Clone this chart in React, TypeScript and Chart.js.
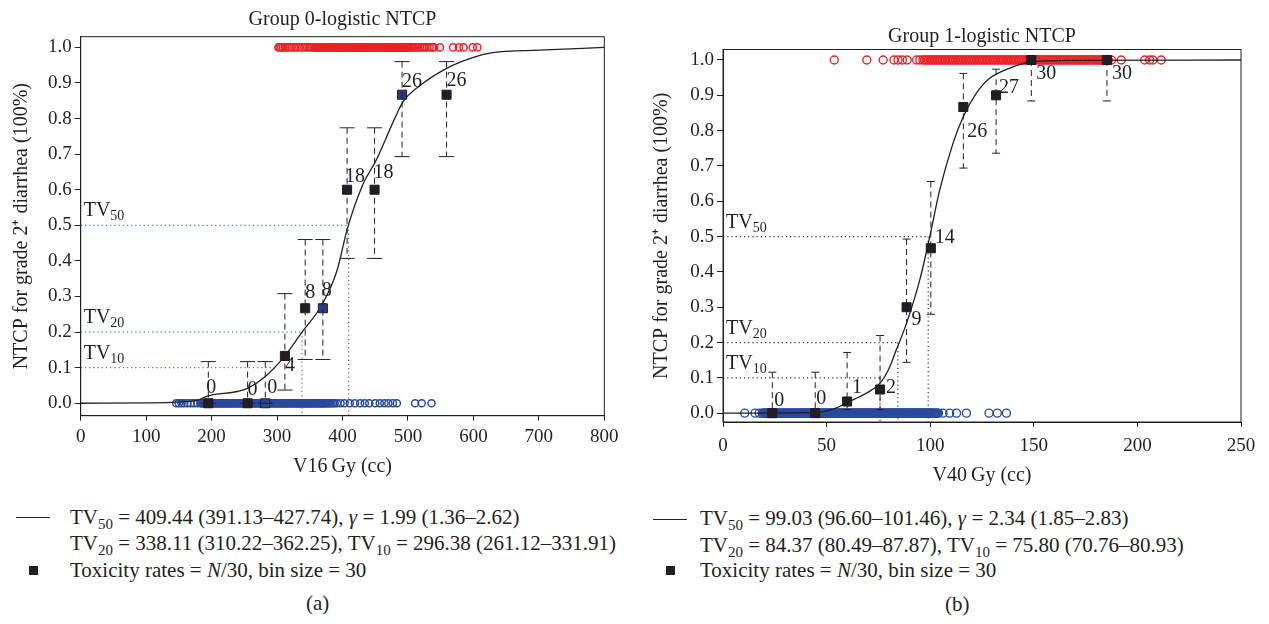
import React, { useEffect, useRef } from "react";
import { Chart, registerables } from "chart.js";

Chart.register(...registerables);

const FONT = '"Liberation Serif", "Times New Roman", serif';
const INK = "#231f20";
const RED = "#ec2227";
const BLUE = "#2a4a9e";

const yTicks = [0, 0.1, 0.2, 0.3, 0.4, 0.5, 0.6, 0.7, 0.8, 0.9, 1.0];
const tvLevels = [0.1, 0.2, 0.5];
const tvNames = ["10", "20", "50"];

// ---------------- Panel (a): Group 0 ----------------
const aXTicks = [0, 100, 200, 300, 400, 500, 600, 700, 800];
const aBinDose = [195, 255, 282, 312, 343, 370, 407, 449, 491, 559];
const aBinN = [0, 0, 0, 4, 8, 8, 18, 18, 26, 26];
const aBinRate = [0, 0, 0, 0.133, 0.267, 0.267, 0.6, 0.6, 0.867, 0.867];
const aBinLow = [0, 0, 0, 0.037, 0.123, 0.123, 0.407, 0.407, 0.693, 0.693];
const aBinHigh = [0.117, 0.117, 0.117, 0.308, 0.46, 0.46, 0.774, 0.774, 0.96, 0.96];
const aCurveDose = [0, 100, 146, 179, 195, 239, 255, 282, 312, 337, 370, 392, 407, 430, 452, 479, 493, 513, 559, 600, 630, 700, 800];
const aCurveNtcp = [0, 0.001, 0.003, 0.009, 0.021, 0.033, 0.042, 0.075, 0.133, 0.197, 0.281, 0.375, 0.488, 0.61, 0.685, 0.797, 0.849, 0.885, 0.941, 0.972, 0.985, 0.992, 1.0];
const aTV = [296.38, 338.11, 409.44];
const aTox = [302, 304, 306.5, 309, 312, 315, 318, 322, 326, 330, 334, 338, 342, 346, 350, 353, 356, 357.6, 359, 360.5, 362, 363.6, 365, 366.4, 368, 369.5, 371, 372.6, 374, 375.4, 377, 378.5, 380, 381.6, 383, 384.4, 386, 387.5, 389, 390.6, 392, 393.4, 395, 396.5, 398, 399.6, 401, 402.4, 404, 405.5, 407, 408.6, 410, 411.4, 413, 414.5, 416, 417.6, 419, 420.4, 422, 423.5, 425, 426.6, 428, 429.4, 431, 432.5, 434, 435.6, 437, 438.4, 440, 441.5, 443, 444.6, 446, 447.4, 449, 450.5, 452, 453.6, 455, 456.4, 458, 459.5, 461, 462.6, 464, 465.4, 467, 468.5, 470, 471.6, 473, 474.4, 476, 477.5, 479, 480.6, 482, 483.4, 485, 486.5, 488, 489.6, 491, 492.4, 494, 495.5, 497, 498.6, 500, 502, 504, 506.5, 509, 512, 515, 518, 521.5, 525, 529, 533, 537, 540, 549, 569, 578, 585, 599, 606];
const aNonTox = [146, 150, 154, 158, 163, 168, 173, 178, 183, 184.5, 186, 187.2, 188.6, 190, 191.1, 192.7, 194, 195.2, 196.5, 198, 199.3, 200.4, 202, 203.1, 204.6, 206, 207.2, 208.5, 209.8, 211.2, 212.4, 214, 215.1, 216.6, 217.8, 219.2, 220.5, 221.7, 223.1, 224.6, 225.8, 227, 228.5, 229.9, 231, 232.6, 233.8, 235.2, 236.4, 237.9, 239, 240.5, 241.8, 243.2, 244.4, 245.9, 247, 248.6, 249.8, 251.1, 252.5, 253.7, 255.2, 256.4, 257.9, 259, 260.6, 261.8, 263.1, 264.5, 265.7, 267.2, 268.4, 269.9, 271, 272.6, 273.8, 275.1, 276.5, 277.7, 279.2, 280.4, 281.9, 283, 284.6, 285.8, 287.1, 288.5, 289.7, 291.2, 292.4, 293.9, 295, 296.6, 297.8, 299.1, 300.5, 301.7, 303.2, 304.4, 305.9, 307, 308.6, 309.8, 311.1, 312.5, 313.7, 315.2, 316.4, 317.9, 319, 320.6, 321.8, 323.1, 324.5, 325.7, 327.2, 328.4, 329.9, 331, 332.6, 333.8, 335.1, 336.5, 337.7, 339.2, 340.4, 341.9, 343, 344.6, 345.8, 347.1, 348.5, 349.7, 351.2, 352.4, 353.9, 355, 356.6, 357.8, 359.1, 360.5, 361.7, 363.2, 364.4, 365.9, 367, 368.6, 369.8, 371.1, 372.5, 373.9, 375.6, 377.2, 379, 381, 383.2, 385.5, 388, 391.5, 397, 403, 411, 419, 427, 434, 441, 450, 457, 464, 470, 477, 483, 511, 521, 536];

// ---------------- Panel (b): Group 1 ----------------
const bXTicks = [0, 50, 100, 150, 200, 250];
const bBinDose = [23.8, 44.5, 59.9, 75.8, 88.6, 100.3, 116, 131.8, 148.8, 185.3];
const bBinN = [0, 0, 1, 2, 9, 14, 26, 27, 30, 30];
const bBinRate = [0, 0, 0.033, 0.067, 0.3, 0.467, 0.867, 0.9, 1, 1];
const bBinLow = [0, 0, 0.01, 0.01, 0.144, 0.28, 0.694, 0.736, 0.884, 0.884];
const bBinHigh = [0.116, 0.116, 0.172, 0.22, 0.493, 0.656, 0.962, 0.974, 1, 1];
const bCurveDose = [0, 45, 54.8, 59.9, 69.3, 75.8, 80, 83.7, 88.6, 95, 99.8, 104.6, 111, 116, 122.3, 128.7, 138.4, 148.8, 170, 250];
const bCurveNtcp = [0, 0.002, 0.015, 0.03, 0.057, 0.085, 0.125, 0.18, 0.255, 0.378, 0.5, 0.632, 0.764, 0.84, 0.906, 0.948, 0.977, 0.995, 0.999, 1.0];
const bTV = [75.8, 84.37, 99.03];
const bTox = [53.7, 69.4, 77.3, 82.5, 84.5, 86.6, 88.9, 93.4, 95, 96.5, 97.4, 98.2, 99, 99.8, 100.5, 101.3, 102.1, 102.9, 103.6, 104.4, 105.2, 106, 106.8, 107.5, 108.3, 109.1, 109.9, 110.6, 111.4, 112.2, 113, 113.8, 114.5, 115.3, 116.1, 116.9, 117.6, 118.4, 119.2, 120, 120.7, 121.5, 122.3, 123.1, 123.9, 124.6, 125.4, 126.2, 127, 127.7, 128.5, 129.3, 130.1, 130.8, 131.6, 132.4, 133.2, 134, 134.7, 135.5, 136.3, 137.1, 137.8, 138.6, 139.4, 140.2, 140.9, 141.7, 142.5, 143.3, 144.1, 144.8, 145.6, 146.4, 147.2, 147.9, 148.7, 149.5, 150.3, 151, 151.8, 152.6, 153.4, 154.2, 154.9, 155.7, 156.5, 157.3, 158, 158.8, 159.6, 160.4, 161.1, 161.9, 162.7, 163.5, 164.3, 165, 165.8, 166.6, 167.4, 168.1, 168.9, 169.7, 170.5, 171.2, 172, 172.8, 173.6, 174.4, 175.1, 175.9, 176.7, 177.5, 178.2, 179, 179.8, 180.6, 181.3, 182.1, 182.9, 183.7, 184.5, 185.2, 186, 187.5, 192.2, 203.5, 205.9, 207.5, 211.5];
const bNonTox = [10.5, 15.5, 17.5, 19, 19.5, 20, 20.4, 20.7, 21.1, 21.5, 21.9, 22.2, 22.6, 23, 23.3, 23.6, 24, 24.4, 24.8, 25.1, 25.5, 25.8, 26.2, 26.6, 27, 27.3, 27.6, 28, 28.4, 28.8, 29.1, 29.5, 29.8, 30.1, 30.5, 30.9, 31.2, 31.6, 32, 32.4, 32.7, 33, 33.4, 33.8, 34.1, 34.5, 34.9, 35.2, 35.6, 36, 36.3, 36.7, 37, 37.4, 37.8, 38.1, 38.5, 38.9, 39.2, 39.6, 40, 40.3, 40.7, 41, 41.4, 41.8, 42.1, 42.5, 42.9, 43.2, 43.6, 44, 44.3, 44.6, 45, 45.4, 45.8, 46.1, 46.5, 46.9, 47.2, 47.5, 47.9, 48.3, 48.6, 49, 49.4, 49.7, 50.1, 50.5, 50.8, 51.2, 51.6, 51.9, 52.3, 52.6, 53, 53.4, 53.7, 54.1, 54.4, 54.8, 55.2, 55.5, 55.9, 56.3, 56.6, 57, 57.4, 57.7, 58.1, 58.4, 58.8, 59.2, 59.5, 59.9, 60.3, 60.6, 61, 61.3, 61.7, 62.1, 62.4, 62.8, 63.2, 63.5, 63.9, 64.2, 64.6, 65, 65.3, 65.7, 66.1, 66.4, 66.8, 67.1, 67.5, 67.9, 68.2, 68.6, 69, 69.3, 69.7, 70, 70.4, 70.8, 71.1, 71.5, 71.9, 72.2, 72.6, 72.9, 73.3, 73.7, 74, 74.4, 74.8, 75.1, 75.5, 75.8, 76.2, 76.6, 76.9, 77.3, 77.7, 78, 78.4, 78.7, 79.1, 79.5, 79.8, 80.2, 80.6, 80.9, 81.3, 81.6, 82, 82.4, 82.7, 83.1, 83.5, 83.8, 84.2, 84.5, 84.9, 85.3, 85.6, 86, 86.4, 86.7, 87.1, 87.4, 87.8, 88.2, 88.5, 88.9, 89.3, 89.6, 90, 90.3, 90.7, 91.1, 91.4, 91.8, 92.2, 92.5, 92.9, 93.2, 93.6, 94, 94.3, 94.7, 95.1, 95.4, 95.8, 96.1, 96.5, 96.9, 97.2, 97.6, 98, 98.3, 98.7, 99, 99.4, 99.8, 100.1, 100.5, 100.9, 101.3, 101.8, 102.2, 102.7, 103.2, 103.6, 104, 106.2, 109.4, 112.7, 117.5, 128.4, 132.4, 136.8];

type Panel = {
  title: string;
  xTitle: string;
  xMax: number;
  xTicks: number[];
  yMin: number;
  yMax: number;
  padTop: number;
  padRight: number;
  yAxisWidth: number;
  xAxisHeight: number;
  xTickPad: number;
  xTitlePad: number;
  titleGap: number;
  binDose: number[];
  binN: number[];
  binRate: number[];
  binLow: number[];
  binHigh: number[];
  curveDose: number[];
  curveNtcp: number[];
  tv: number[];
  tvVertical: boolean[];
  tvColor: string;
  tox: number[];
  nonTox: number[];
  circleR: number;
  circleW: number;
  capHalf: number;
  squareFill: string[];
  labelOffsets: number[][];
};

const panelA: Panel = {
  title: "Group 0-logistic NTCP",
  xTitle: "V16\u2009Gy (cc)",
  xMax: 800,
  xTicks: aXTicks,
  yMin: -0.035,
  yMax: 1.03,
  padTop: 36.7,
  padRight: 35.7,
  yAxisWidth: 80.7,
  xAxisHeight: 74.3,
  xTickPad: 5,
  xTitlePad: 11,
  titleGap: 12,
  binDose: aBinDose,
  binN: aBinN,
  binRate: aBinRate,
  binLow: aBinLow,
  binHigh: aBinHigh,
  curveDose: aCurveDose,
  curveNtcp: aCurveNtcp,
  tv: aTV,
  tvVertical: [false, true, true],
  tvColor: "#4f6fc4",
  tox: aTox,
  nonTox: aNonTox,
  circleR: 3.6,
  circleW: 1.5,
  capHalf: 7.5,
  squareFill: [INK, INK, "rgba(0,0,0,0)", INK, INK, "#2b3d91", INK, INK, "#28398a", INK],
  labelOffsets: [[3, -15], [5, -13], [7, -15], [5, 10], [5, -15], [4, -17], [8, -13], [9, -17], [10, -13], [10, -14]],
};

const panelB: Panel = {
  title: "Group 1-logistic NTCP",
  xTitle: "V40\u2009Gy (cc)",
  xMax: 250,
  xTicks: bXTicks,
  yMin: -0.025,
  yMax: 1.0297,
  padTop: 49.5,
  padRight: 28,
  yAxisWidth: 83,
  xAxisHeight: 68,
  xTickPad: 8,
  xTitlePad: 2,
  titleGap: 8,
  binDose: bBinDose,
  binN: bBinN,
  binRate: bBinRate,
  binLow: bBinLow,
  binHigh: bBinHigh,
  curveDose: bCurveDose,
  curveNtcp: bCurveNtcp,
  tv: bTV,
  tvVertical: [true, true, true],
  tvColor: "#333333",
  tox: bTox,
  nonTox: bNonTox,
  circleR: 4,
  circleW: 1.4,
  capHalf: 4,
  squareFill: [INK, INK, INK, INK, INK, INK, INK, INK, INK, INK],
  labelOffsets: [[7, -12], [6, -14], [10, -14], [11, -2], [10, 13], [14, -10], [14, 25], [13, -8], [15, 14], [15, 14]],
};

function overlay(p: Panel) {
  return {
    id: "overlay",
    beforeDatasetsDraw(chart: any) {
      const { ctx, chartArea: a, scales } = chart;
      const x = scales.x;
      const y = scales.y;
      ctx.save();
      ctx.strokeStyle = p.tvColor;
      ctx.lineWidth = 1.2;
      ctx.setLineDash([1.2, 3]);
      p.tv.forEach((v: number, i: number) => {
        const py = y.getPixelForValue(tvLevels[i]);
        const px = x.getPixelForValue(v);
        ctx.beginPath();
        ctx.moveTo(a.left, py);
        ctx.lineTo(px, py);
        if (p.tvVertical[i]) {
          ctx.moveTo(px, py);
          ctx.lineTo(px, a.bottom);
        }
        ctx.stroke();
      });
      ctx.setLineDash([]);
      ctx.fillStyle = INK;
      ctx.textBaseline = "alphabetic";
      ctx.textAlign = "left";
      tvLevels.forEach((lv: number, i: number) => {
        const py = y.getPixelForValue(lv);
        const bx = a.left + 3;
        const by = py - 9;
        ctx.font = `20px ${FONT}`;
        ctx.fillText("TV", bx, by);
        const w = ctx.measureText("TV").width;
        ctx.font = `14px ${FONT}`;
        ctx.fillText(tvNames[i], bx + w, by + 4);
      });
      ctx.restore();
    },
    afterDatasetsDraw(chart: any) {
      const { ctx, chartArea: a, scales } = chart;
      const x = scales.x;
      const y = scales.y;
      ctx.save();
      ctx.beginPath();
      ctx.rect(a.left, a.top, a.right - a.left, a.bottom - a.top);
      ctx.clip();
      ctx.strokeStyle = INK;
      ctx.lineWidth = 1;
      p.binDose.forEach((d: number, i: number) => {
        const px = x.getPixelForValue(d);
        const pLo = y.getPixelForValue(p.binLow[i]);
        const pHi = y.getPixelForValue(p.binHigh[i]);
        ctx.setLineDash([6, 4]);
        ctx.beginPath();
        ctx.moveTo(px, pHi);
        ctx.lineTo(px, pLo);
        ctx.stroke();
        ctx.setLineDash([]);
        ctx.beginPath();
        ctx.moveTo(px - p.capHalf, pHi);
        ctx.lineTo(px + p.capHalf, pHi);
        ctx.moveTo(px - p.capHalf, pLo);
        ctx.lineTo(px + p.capHalf, pLo);
        ctx.stroke();
      });
      ctx.restore();
      ctx.save();
      ctx.fillStyle = INK;
      ctx.font = `20px ${FONT}`;
      ctx.textAlign = "center";
      ctx.textBaseline = "middle";
      p.binDose.forEach((d: number, i: number) => {
        const px = x.getPixelForValue(d);
        const py = y.getPixelForValue(p.binRate[i]);
        const off = p.labelOffsets[i];
        ctx.fillText(String(p.binN[i]), px + off[0], py + off[1]);
      });
      ctx.strokeStyle = INK;
      ctx.lineWidth = 1;
      ctx.strokeRect(a.left, a.top, a.right - a.left, a.bottom - a.top);
      ctx.font = `20px ${FONT}`;
      ctx.textBaseline = "alphabetic";
      ctx.fillText(p.title, (a.left + a.right) / 2, a.top - p.titleGap);
      ctx.restore();
    },
  };
}

function buildChart(canvas: HTMLCanvasElement, p: Panel) {
  const tickFont = { family: FONT, size: 19 };
  return new Chart(canvas, {
    type: "scatter",
    data: {
      datasets: [
        {
          label: "bins",
          data: p.binDose.map((d, i) => ({ x: d, y: p.binRate[i] })),
          pointStyle: "rect",
          pointRadius: 6.4,
          pointBackgroundColor: p.squareFill,
          pointBorderColor: "#1c1a2e",
          pointBorderWidth: 1,
          showLine: false,
          order: 0,
        } as any,
        {
          label: "curve",
          data: p.curveDose.map((d, i) => ({ x: d, y: p.curveNtcp[i] })),
          showLine: true,
          pointRadius: 0,
          borderColor: INK,
          borderWidth: 1.3,
          cubicInterpolationMode: "monotone",
          fill: false,
          order: 1,
        } as any,
        {
          label: "nontox",
          data: p.nonTox.map((d) => ({ x: d, y: 0 })),
          pointStyle: "circle",
          pointRadius: p.circleR,
          pointBorderColor: BLUE,
          pointBackgroundColor: "rgba(0,0,0,0)",
          pointBorderWidth: p.circleW,
          showLine: false,
          order: 2,
        } as any,
        {
          label: "tox",
          data: p.tox.map((d) => ({ x: d, y: 1 })),
          pointStyle: "circle",
          pointRadius: p.circleR,
          pointBorderColor: RED,
          pointBackgroundColor: "rgba(0,0,0,0)",
          pointBorderWidth: p.circleW,
          showLine: false,
          order: 3,
        } as any,
      ],
    },
    options: {
      responsive: false,
      animation: false,
      events: [],
      layout: { padding: { left: 0, right: p.padRight, top: p.padTop, bottom: 0 } },
      plugins: {
        legend: { display: false },
        tooltip: { enabled: false },
        title: { display: false },
      },
      scales: {
        x: {
          type: "linear",
          min: 0,
          max: p.xMax,
          afterBuildTicks: (s: any) => {
            s.ticks = p.xTicks.map((v) => ({ value: v }));
          },
          afterFit: (s: any) => {
            s.height = p.xAxisHeight;
          },
          ticks: {
            font: tickFont,
            color: INK,
            padding: p.xTickPad,
            maxRotation: 0,
            autoSkip: false,
            callback: (v: any) => String(v),
          },
          grid: { drawOnChartArea: false, drawTicks: true, tickLength: 5, color: INK, lineWidth: 1 },
          border: { display: true, color: INK, width: 1 },
          title: {
            display: true,
            text: p.xTitle,
            color: INK,
            font: { family: FONT, size: 20 },
            padding: { top: 0, bottom: p.xTitlePad },
          },
        },
        y: {
          type: "linear",
          min: p.yMin,
          max: p.yMax,
          afterBuildTicks: (s: any) => {
            s.ticks = yTicks.map((v) => ({ value: v }));
          },
          afterFit: (s: any) => {
            s.width = p.yAxisWidth;
          },
          ticks: {
            font: tickFont,
            color: INK,
            padding: 3,
            autoSkip: false,
            callback: (v: any) => Number(v).toFixed(1),
          },
          grid: { drawOnChartArea: false, drawTicks: true, tickLength: 6, color: INK, lineWidth: 1 },
          border: { display: true, color: INK, width: 1 },
          title: {
            display: true,
            text: "NTCP for grade 2\u207A diarrhea (100%)",
            color: INK,
            font: { family: FONT, size: 20 },
            padding: { top: 10, bottom: 0 },
          },
        },
      },
    } as any,
    plugins: [overlay(p)],
  });
}

const Sub = ({ children }: { children: React.ReactNode }) => (
  <span style={{ fontSize: 15, position: "relative", top: 5 }}>{children}</span>
);

const textStyle = (left: number, top: number): React.CSSProperties => ({
  position: "absolute",
  left,
  top,
  font: `21px ${FONT}`,
  color: INK,
  whiteSpace: "nowrap",
  lineHeight: "24px",
});

export default function App() {
  const refA = useRef<HTMLCanvasElement | null>(null);
  const refB = useRef<HTMLCanvasElement | null>(null);

  useEffect(() => {
    const ca = buildChart(refA.current as HTMLCanvasElement, panelA);
    const cb = buildChart(refB.current as HTMLCanvasElement, panelB);
    return () => {
      ca.destroy();
      cb.destroy();
    };
  }, []);

  return (
    <div style={{ position: "absolute", left: 0, top: 0, width: 1269, height: 624, background: "#fff", overflow: "hidden" }}>
      <canvas ref={refA} width={640} height={490} style={{ position: "absolute", left: 0, top: 0 }} />
      <canvas ref={refB} width={629} height={490} style={{ position: "absolute", left: 640, top: 0 }} />

      {/* legend (a) */}
      <div style={{ position: "absolute", left: 16, top: 517, width: 34, height: 1, background: INK }} />
      <div style={textStyle(70, 505)}>
        TV<Sub>50</Sub> = 409.44 (391.13–427.74), <i>γ</i> = 1.99 (1.36–2.62)
      </div>
      <div style={textStyle(70, 531)}>
        TV<Sub>20</Sub> = 338.11 (310.22–362.25), TV<Sub>10</Sub> = 296.38 (261.12–331.91)
      </div>
      <div style={{ position: "absolute", left: 29, top: 566, width: 9, height: 9, background: INK }} />
      <div style={textStyle(70, 558)}>
        Toxicity rates = <i>N</i>/30, bin size = 30
      </div>
      <div style={{ ...textStyle(306, 591) }}>(a)</div>

      {/* legend (b) */}
      <div style={{ position: "absolute", left: 653, top: 519, width: 34, height: 1, background: INK }} />
      <div style={textStyle(700, 506)}>
        TV<Sub>50</Sub> = 99.03 (96.60–101.46), <i>γ</i> = 2.34 (1.85–2.83)
      </div>
      <div style={textStyle(700, 533)}>
        TV<Sub>20</Sub> = 84.37 (80.49–87.87), TV<Sub>10</Sub> = 75.80 (70.76–80.93)
      </div>
      <div style={{ position: "absolute", left: 666, top: 566, width: 9, height: 9, background: INK }} />
      <div style={textStyle(700, 558)}>
        Toxicity rates = <i>N</i>/30, bin size = 30
      </div>
      <div style={{ ...textStyle(945, 592) }}>(b)</div>
    </div>
  );
}
